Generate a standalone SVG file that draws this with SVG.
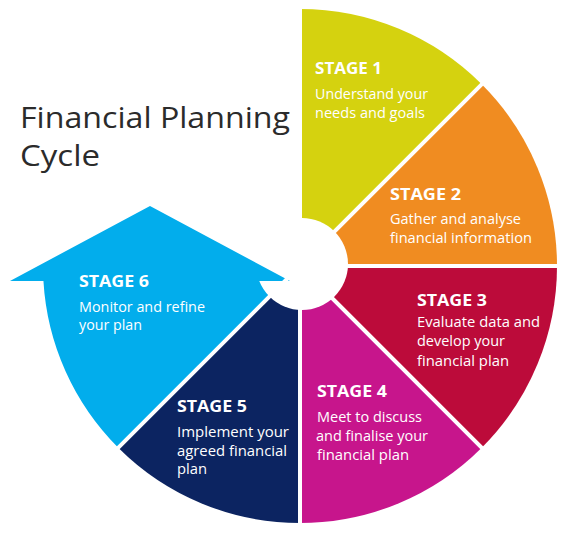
<svg xmlns="http://www.w3.org/2000/svg" width="567" height="534" viewBox="0 0 567 534">
<style>
.title{font-family:"Open Sans","Liberation Sans",sans-serif;font-size:29px;fill:#2b2b2b}
.st{font-family:"Open Sans","Liberation Sans",sans-serif;font-size:16px;font-weight:700;fill:#ffffff}
.tx{font-family:"Open Sans","Liberation Sans",sans-serif;font-size:14px;fill:#ffffff}
.sep{stroke:#ffffff;stroke-width:4;fill:none}
</style>
<rect width="567" height="534" fill="#ffffff"/>
<g id="title">
<text class="title" x="20" y="128" textLength="270" lengthAdjust="spacingAndGlyphs">Financial Planning</text>
<text class="title" x="20" y="166" textLength="80" lengthAdjust="spacingAndGlyphs">Cycle</text>
</g>
<g id="stage1">
<path d="M300,266 L300,9 A257,257 0 0 1 481.73,84.27 Z" fill="#d5d20f"/>
</g>
<g id="stage2">
<path d="M300,266 L481.73,84.27 A257,257 0 0 1 557,266 Z" fill="#f08c21"/>
</g>
<g id="stage3">
<path d="M300,266 L557,266 A257,257 0 0 1 481.73,447.73 Z" fill="#bc0b3a"/>
</g>
<g id="stage4">
<path d="M300,266 L481.73,447.73 A257,257 0 0 1 300,523 Z" fill="#c7158c"/>
</g>
<g id="stage5">
<path d="M300,266 L300,523 A257,257 0 0 1 118.27,447.73 Z" fill="#0c2461"/>
</g>
<circle id="hole" cx="302" cy="264" r="46" fill="#ffffff"/>
<g id="stage6">
<path d="M118.27,447.73 A257,257 0 0 1 43.44,281 L10,281 L150,206 L290,281 L259.26,281 A46,46 0 0 0 269.47,296.53 Z" fill="#02adec"/>
</g>
<g id="connectors">
<line class="sep" x1="300" y1="266" x2="300" y2="0"/>
<line class="sep" x1="300" y1="266" x2="487.4" y2="78.6"/>
<line class="sep" x1="300" y1="266" x2="567" y2="266"/>
<line class="sep" x1="300" y1="266" x2="487.4" y2="453.4"/>
<line class="sep" x1="300" y1="266" x2="300" y2="534"/>
<line class="sep" x1="300" y1="266" x2="112.6" y2="453.4"/>
</g>
<g id="labels1">
<text class="st" x="315" y="74" textLength="67" lengthAdjust="spacingAndGlyphs">STAGE 1</text>
<text class="tx" x="315" y="99" textLength="113" lengthAdjust="spacingAndGlyphs">Understand your</text>
<text class="tx" x="315" y="118" textLength="110" lengthAdjust="spacingAndGlyphs">needs and goals</text>
</g>
<g id="labels2">
<text class="st" x="390" y="200" textLength="71" lengthAdjust="spacingAndGlyphs">STAGE 2</text>
<text class="tx" x="390" y="224" textLength="131" lengthAdjust="spacingAndGlyphs">Gather and analyse</text>
<text class="tx" x="390" y="243" textLength="142" lengthAdjust="spacingAndGlyphs">financial information</text>
</g>
<g id="labels3">
<text class="st" x="417" y="306" textLength="70" lengthAdjust="spacingAndGlyphs">STAGE 3</text>
<text class="tx" x="417" y="327" textLength="123" lengthAdjust="spacingAndGlyphs">Evaluate data and</text>
<text class="tx" x="417" y="346" textLength="88" lengthAdjust="spacingAndGlyphs">develop your</text>
<text class="tx" x="417" y="366" textLength="92" lengthAdjust="spacingAndGlyphs">financial plan</text>
</g>
<g id="labels4">
<text class="st" x="317" y="397" textLength="70" lengthAdjust="spacingAndGlyphs">STAGE 4</text>
<text class="tx" x="317" y="422" textLength="105" lengthAdjust="spacingAndGlyphs">Meet to discuss</text>
<text class="tx" x="316" y="441" textLength="112" lengthAdjust="spacingAndGlyphs">and finalise your</text>
<text class="tx" x="317" y="460" textLength="92" lengthAdjust="spacingAndGlyphs">financial plan</text>
</g>
<g id="labels5">
<text class="st" x="177" y="412" textLength="70" lengthAdjust="spacingAndGlyphs">STAGE 5</text>
<text class="tx" x="177" y="437" textLength="112" lengthAdjust="spacingAndGlyphs">Implement your</text>
<text class="tx" x="177" y="456" textLength="110" lengthAdjust="spacingAndGlyphs">agreed financial</text>
<text class="tx" x="177" y="474" textLength="30" lengthAdjust="spacingAndGlyphs">plan</text>
</g>
<g id="labels6">
<text class="st" x="79" y="287" textLength="70" lengthAdjust="spacingAndGlyphs">STAGE 6</text>
<text class="tx" x="79" y="312" textLength="126" lengthAdjust="spacingAndGlyphs">Monitor and refine</text>
<text class="tx" x="79" y="330" textLength="63" lengthAdjust="spacingAndGlyphs">your plan</text>
</g>
</svg>
